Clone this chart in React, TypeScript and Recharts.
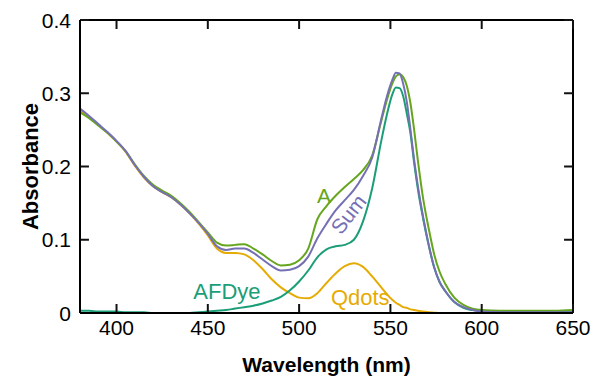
import React from "react";
import { LineChart, Line, XAxis, YAxis, ReferenceDot, ReferenceLine, Label } from "recharts";

const wavelengths = [
  380, 385, 390, 395, 400, 405, 410, 415, 420, 425, 430, 435, 440, 445, 450, 455, 460,
  465, 470, 475, 480, 485, 490, 495, 500, 505, 510, 515, 520, 525, 530, 535, 540, 545,
  548, 551, 553, 555, 557, 559, 561, 563, 565, 568, 571, 574, 577, 580, 585, 590, 595,
  600, 610, 620, 630, 640, 650,
];

const qdots = [
  0.277, 0.267, 0.257, 0.246, 0.234, 0.22, 0.201, 0.185, 0.173, 0.165, 0.158, 0.148,
  0.136, 0.122, 0.106, 0.088, 0.082, 0.082, 0.08, 0.072, 0.06, 0.046, 0.035, 0.027,
  0.021, 0.02, 0.027, 0.041, 0.054, 0.064, 0.068, 0.063, 0.05, 0.035, 0.026, 0.018,
  0.014, 0.011, 0.008, 0.007, 0.005, 0.004, 0.003, 0.002, 0.001, 0.0005, 0, 0, 0, 0, 0,
  0, 0, 0, 0, 0, 0,
];

const afdye = [
  0.003, 0.003, 0.002, 0.002, 0.002, 0.001, 0.001, 0.001, 0.0, 0, 0, 0, 0, 0.001, 0.002,
  0.003, 0.004, 0.006, 0.008, 0.01, 0.013, 0.017, 0.022, 0.031, 0.043, 0.058, 0.076,
  0.087, 0.091, 0.093, 0.1, 0.125, 0.17, 0.235, 0.27, 0.298, 0.308, 0.307, 0.296, 0.272,
  0.245, 0.205, 0.17, 0.128, 0.092, 0.062, 0.042, 0.03, 0.015, 0.007, 0.004, 0.003,
  0.002, 0.002, 0.002, 0.002, 0.002,
];

const sum = [
  0.279, 0.269, 0.258, 0.247, 0.235, 0.221, 0.202, 0.186, 0.173, 0.165, 0.158, 0.148,
  0.136, 0.123, 0.108, 0.091, 0.086, 0.088, 0.088, 0.082, 0.073, 0.064, 0.058, 0.059,
  0.064, 0.077, 0.102, 0.122, 0.14, 0.154, 0.168, 0.187, 0.212, 0.265, 0.295, 0.318,
  0.328, 0.327, 0.313, 0.288, 0.25, 0.209, 0.174, 0.13, 0.093, 0.062, 0.042, 0.03,
  0.015, 0.008, 0.004, 0.002, 0.001, 0.001, 0.001, 0.001, 0.001,
];

const measuredA = [
  0.274, 0.266, 0.256, 0.246, 0.234, 0.221, 0.203, 0.187, 0.175, 0.167, 0.16, 0.15,
  0.138, 0.124, 0.11, 0.096, 0.092, 0.093, 0.094, 0.088, 0.08, 0.071, 0.065, 0.066,
  0.072, 0.088, 0.128, 0.146, 0.16, 0.172, 0.183, 0.195, 0.215, 0.262, 0.29, 0.313,
  0.323, 0.326, 0.322, 0.31, 0.286, 0.25, 0.209, 0.155, 0.115, 0.08, 0.056, 0.04,
  0.021, 0.011, 0.006, 0.004, 0.003, 0.003, 0.003, 0.003, 0.004,
];

const xTicks = [400, 450, 500, 550, 600, 650];
const yTicks = [0, 0.1, 0.2, 0.3, 0.4];
const yTickLabels = ["0", "0.1", "0.2", "0.3", "0.4"];

const X_MIN = 380;
const X_MAX = 650;
const Y_MIN = 0;
const Y_MAX = 0.4;

const data = wavelengths.map((w, i) => ({
  wl: w,
  qdots: qdots[i],
  afdye: afdye[i],
  sum: sum[i],
  a: measuredA[i],
}));

const FONT = "'Liberation Sans', Arial, Helvetica, sans-serif";
const C_A = "#66a61e";
const C_SUM = "#7570b3";
const C_AF = "#1b9e77";
const C_Q = "#e6ab02";
const TICK_FS = 21;
const TICK_COLOR = "#111";
// inward tick length expressed in axis units (~9px)
const X_TICK_LEN = 0.0123;
const Y_TICK_LEN = 4.9;

const BottomTick = (props: any) => {
  const { x, y, payload } = props;
  return (
    <text x={x} y={y} dy="0.75em" textAnchor="middle" fontSize={TICK_FS} fontFamily={FONT} fill="#000">
      {String(payload.value)}
    </text>
  );
};

const LeftTick = (props: any) => {
  const { x, y, payload } = props;
  const idx = yTicks.indexOf(payload.value);
  const label = idx >= 0 ? yTickLabels[idx] : String(payload.value);
  return (
    <text x={x - 3} y={y} dy="0.36em" textAnchor="end" fontSize={TICK_FS} fontFamily={FONT} fill="#000">
      {label}
    </text>
  );
};

const tickSegments: { key: string; seg: { x: number; y: number }[] }[] = [
  ...xTicks.map((t) => ({ key: "b" + t, seg: [{ x: t, y: Y_MIN }, { x: t, y: Y_MIN + X_TICK_LEN }] })),
  ...xTicks.map((t) => ({ key: "t" + t, seg: [{ x: t, y: Y_MAX }, { x: t, y: Y_MAX - X_TICK_LEN }] })),
  ...yTicks.map((t) => ({ key: "l" + t, seg: [{ x: X_MIN, y: t }, { x: X_MIN + Y_TICK_LEN, y: t }] })),
  ...yTicks.map((t) => ({ key: "r" + t, seg: [{ x: X_MAX, y: t }, { x: X_MAX - Y_TICK_LEN, y: t }] })),
];

export default function App() {
  return (
    <div
      style={{
        position: "absolute",
        left: 0,
        top: 0,
        width: 593,
        height: 376,
        background: "#fff",
        fontFamily: FONT,
      }}
    >
      <LineChart
        width={593}
        height={376}
        data={data}
        margin={{ top: 20, right: 20, bottom: 0, left: 0 }}
      >
        <XAxis
          xAxisId="b"
          dataKey="wl"
          type="number"
          domain={[X_MIN, X_MAX]}
          ticks={xTicks}
          orientation="bottom"
          height={63}
          tickSize={0}
          tickMargin={6}
          tick={<BottomTick />}
          axisLine={{ stroke: "#000", strokeWidth: 2 }}
          tickLine={false}
          interval={0}
          allowDataOverflow
        >
          <Label
            value="Wavelength (nm)"
            position="insideBottom"
            offset={4}
            style={{ fontSize: 21, fontWeight: "bold", fill: "#000", fontFamily: FONT }}
          />
        </XAxis>
        <YAxis
          yAxisId="l"
          type="number"
          domain={[Y_MIN, Y_MAX]}
          ticks={yTicks}
          orientation="left"
          width={80}
          tickSize={0}
          tickMargin={6}
          tick={<LeftTick />}
          axisLine={{ stroke: "#000", strokeWidth: 2 }}
          tickLine={false}
          interval={0}
          allowDataOverflow
        >
          <Label
            value="Absorbance"
            angle={-90}
            position="center"
            dx={-10}
            style={{ fontSize: 22, fontWeight: "bold", fill: "#000", fontFamily: FONT }}
          />
        </YAxis>

        <Line xAxisId="b" yAxisId="l" type="monotone" dataKey="qdots" stroke={C_Q} strokeWidth={2} dot={false} isAnimationActive={false} />
        <Line xAxisId="b" yAxisId="l" type="monotone" dataKey="afdye" stroke={C_AF} strokeWidth={2} dot={false} isAnimationActive={false} />
        <Line xAxisId="b" yAxisId="l" type="monotone" dataKey="a" stroke={C_A} strokeWidth={2} dot={false} isAnimationActive={false} />
        <Line xAxisId="b" yAxisId="l" type="monotone" dataKey="sum" stroke={C_SUM} strokeWidth={2} dot={false} isAnimationActive={false} />

        {/* frame: top and right borders */}
        <ReferenceLine xAxisId="b" yAxisId="l" y={Y_MAX} stroke="#000" strokeWidth={2} ifOverflow="visible" />
        <ReferenceLine xAxisId="b" yAxisId="l" x={X_MAX} stroke="#000" strokeWidth={2} ifOverflow="visible" />

        {tickSegments.map((s) => (
          <ReferenceLine
            key={s.key}
            xAxisId="b"
            yAxisId="l"
            segment={s.seg}
            stroke={TICK_COLOR}
            strokeWidth={2}
            ifOverflow="visible"
          />
        ))}

        <ReferenceDot xAxisId="b" yAxisId="l" x={460.5} y={0.03} r={0} fill="none" stroke="none">
          <Label value="AFDye" position="center" style={{ fontSize: 22, fill: C_AF, fontFamily: FONT }} />
        </ReferenceDot>
        <ReferenceDot xAxisId="b" yAxisId="l" x={533.5} y={0.022} r={0} fill="none" stroke="none">
          <Label value="Qdots" position="center" style={{ fontSize: 22, fill: C_Q, fontFamily: FONT }} />
        </ReferenceDot>
        <ReferenceDot xAxisId="b" yAxisId="l" x={513.6} y={0.161} r={0} fill="none" stroke="none">
          <Label value="A" position="center" style={{ fontSize: 21, fill: C_A, fontFamily: FONT }} />
        </ReferenceDot>
        <ReferenceDot xAxisId="b" yAxisId="l" x={527} y={0.135} r={0} fill="none" stroke="none">
          <Label value="Sum" position="center" angle={-52} style={{ fontSize: 21, fill: C_SUM, fontFamily: FONT }} />
        </ReferenceDot>
      </LineChart>
    </div>
  );
}
